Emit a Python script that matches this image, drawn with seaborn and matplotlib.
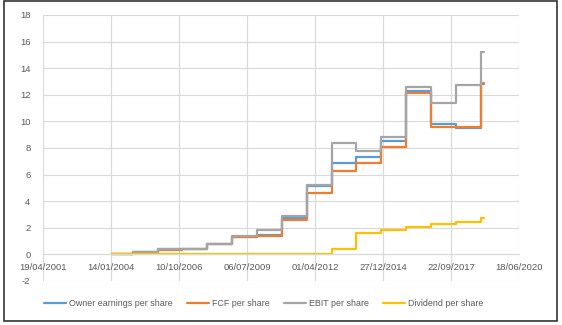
import matplotlib
matplotlib.use("Agg")
import matplotlib.pyplot as plt
import matplotlib.dates as mdates
import matplotlib.patches as mpatches
import seaborn as sns
import pandas as pd
import numpy as np

# ---- data (step values; each value holds until the next date) ----
dates = ["2004-01-31", "2004-11-30", "2005-11-30", "2006-11-30", "2007-11-30",
         "2008-11-30", "2009-11-30", "2010-11-30", "2011-11-30", "2012-11-30",
         "2013-11-30", "2014-11-30", "2015-11-30", "2016-11-30", "2017-11-30",
         "2018-11-30", "2019-01-15"]
owner_earnings = [0.05, 0.15, 0.38, 0.40, 0.75, 1.30, 1.45, 2.70, 5.15, 6.85,
                  7.30, 8.50, 12.25, 9.80, 9.50, 12.80, 12.80]
fcf = [0.05, 0.18, 0.35, 0.37, 0.75, 1.30, 1.40, 2.55, 4.60, 6.30,
       6.90, 8.10, 12.10, 9.55, 9.60, 12.85, 12.85]
ebit = [0.06, 0.15, 0.40, 0.42, 0.75, 1.35, 1.85, 2.85, 5.20, 8.35,
        7.75, 8.80, 12.60, 11.40, 12.70, 15.25, 15.25]
dividend = [0.03, 0.03, 0.03, 0.03, 0.03, 0.03, 0.03, 0.03, 0.03, 0.40,
            1.60, 1.80, 2.05, 2.25, 2.45, 2.75, 2.75]
series_names = ["Owner earnings per share", "FCF per share", "EBIT per share",
                "Dividend per share"]
colors = ["#5B9BD5", "#ED7D31", "#A5A5A5", "#FFC000"]
tick_start = "2001-04-19"
yticks = list(range(-2, 19, 2))

# ---- build long table ----
d = pd.to_datetime(dates)
frames = []
for name, vals in zip(series_names, [owner_earnings, fcf, ebit, dividend]):
    frames.append(pd.DataFrame({"date": d, "value": vals, "series": name}))
df = pd.concat(frames, ignore_index=True)

sns.set_style("white")
plt.rcParams["font.family"] = ["Liberation Sans", "DejaVu Sans"]
txt_color = "#595959"
grid_color = "#D9D9D9"

fig = plt.figure(figsize=(5.62, 3.25), dpi=100)
ax = fig.add_axes([43/562, 1-281/325, (519-43)/562, (281-15)/325])

sns.lineplot(data=df, x="date", y="value", hue="series", hue_order=series_names,
             palette=colors, drawstyle="steps-post", linewidth=1.6,
             estimator=None, ax=ax)

start = pd.Timestamp(tick_start)
xt = [start + pd.Timedelta(days=1000 * k) for k in range(8)]
ax.set_xlim(mdates.date2num(xt[0]), mdates.date2num(xt[-1]))
ax.set_xticks([mdates.date2num(t) for t in xt])
ax.set_xticklabels([t.strftime("%d/%m/%Y") for t in xt])
ax.set_ylim(-2, 18)
ax.set_yticks(yticks)
ax.set_yticklabels([str(v) for v in yticks])
ax.set_xlabel("")
ax.set_ylabel("")

ax.grid(True, color=grid_color, linewidth=0.8)
ax.set_axisbelow(True)
for s in ["top", "right", "left"]:
    ax.spines[s].set_visible(False)
ax.spines["bottom"].set_position(("data", 0))
ax.spines["bottom"].set_color(grid_color)
ax.spines["bottom"].set_linewidth(0.8)
ax.tick_params(axis="both", length=0, labelsize=6.8, labelcolor=txt_color)
ax.tick_params(axis="x", pad=6.5)
ax.tick_params(axis="y", pad=9)

handles, labels = ax.get_legend_handles_labels()
ax.get_legend().remove()
fig.legend(handles, labels, loc="center", bbox_to_anchor=(0.469, 1-304/325),
           ncol=4, frameon=False, fontsize=6.4, labelcolor=txt_color,
           handlelength=2.5, handletextpad=0.3, columnspacing=1.6)

fig.patches.append(mpatches.Rectangle((4/562, 1-321/325), (557-4)/562, (321-1)/325,
                                      transform=fig.transFigure, fill=False,
                                      edgecolor="#333333", linewidth=1.2))

fig.savefig("out.png", dpi=100)
